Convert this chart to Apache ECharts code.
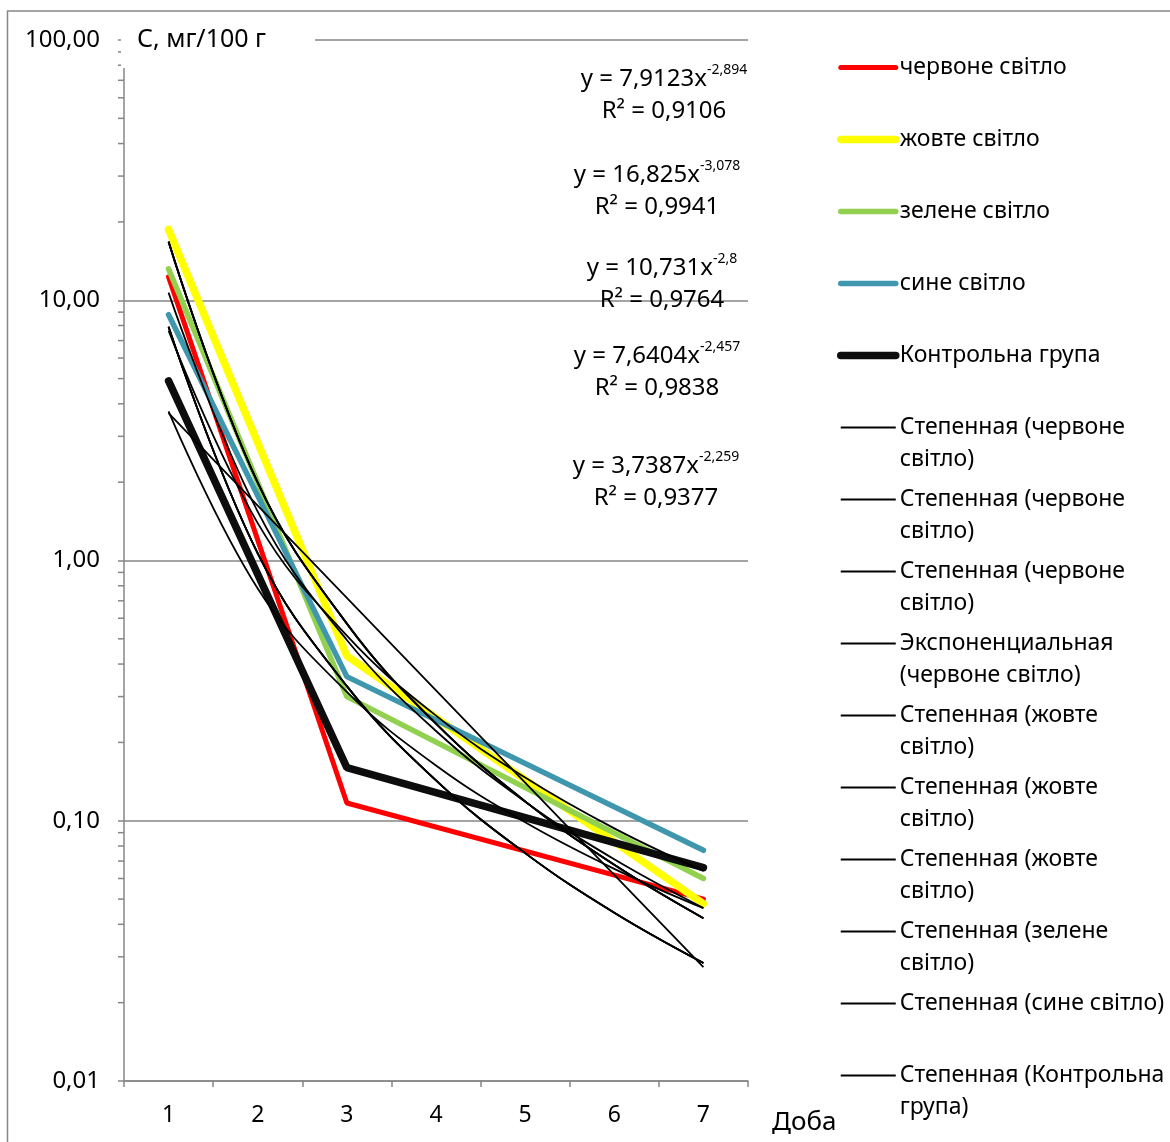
<!DOCTYPE html>
<html>
<head>
<meta charset="utf-8">
<script src="https://cdn.jsdelivr.net/npm/echarts@6/dist/echarts.min.js"></script>
<style>
  html, body { margin: 0; padding: 0; background: #fff; }
  #chart { width: 1170px; height: 1142px; }
</style>
</head>
<body>
<div id="chart"></div>
<script>
// days on the x axis
const days = ['1', '2', '3', '4', '5', '6', '7'];

// measured concentrations (only days 1, 3, 7 have points)
const redLight = [12.3, null, 0.117, null, null, null, 0.050];
const yellowLight = [18.7, null, 0.43, null, null, null, 0.048];
const greenLight = [13.2, null, 0.30, null, null, null, 0.060];
const blueLight = [8.8, null, 0.358, null, null, null, 0.077];
const controlGroup = [4.9, null, 0.16, null, null, null, 0.066];

// trend lines, read at each day
const trendRedPow = [7.91, 1.065, 0.329, 0.143, 0.0751, 0.0443, 0.0284];
const trendRedExp = [3.68, 1.626, 0.718, 0.317, 0.140, 0.0619, 0.0274];
const trendYellowPow = [16.8, 1.99, 0.572, 0.236, 0.1187, 0.0677, 0.0422];
const trendGreenPow = [10.7, 1.541, 0.495, 0.2213, 0.1184, 0.0711, 0.0462];
const trendBluePow = [7.64, 1.392, 0.514, 0.2534, 0.1466, 0.0935, 0.0641];
const trendControlPow = [3.74, 0.781, 0.3126, 0.1631, 0.0986, 0.0653, 0.0461];

// y axis minor tick values (log)
const minorTicks = [];
[0.01, 0.1, 1, 10].forEach(d => { for (let k = 2; k <= 9; k++) minorTicks.push(+(d * k).toPrecision(3)); });

// trendline equations
const eqCoef = ['7,9123', '16,825', '10,731', '7,6404', '3,7387'];
const eqPow = ['-2,894', '-3,078', '-2,8', '-2,457', '-2,259'];
const eqR2 = ['0,9106', '0,9941', '0,9764', '0,9838', '0,9377'];
const eqPos = [[664, 95], [657, 191], [662, 284], [657, 372], [656, 482]];

const FONT = '"Noto Sans", "Open Sans", sans-serif';
const GREY = '#868686';

const dataSeries = [
  { label: 'червоне світло', data: redLight, color: '#ff0000', width: 5 },
  { label: 'жовте світло', data: yellowLight, color: '#ffff00', width: 7.5 },
  { label: 'зелене світло', data: greenLight, color: '#92d050', width: 5.5 },
  { label: 'сине світло', data: blueLight, color: '#3f97ae', width: 5.5 },
  { label: 'Контрольна група', data: controlGroup, color: '#0d0d0d', width: 7.5 }
];

const trendSeries = [
  { label: 'Степенная (червоне\nсвітло)', data: trendRedPow },
  { label: 'Степенная (червоне\nсвітло)', data: trendRedPow },
  { label: 'Степенная (червоне\nсвітло)', data: trendRedPow },
  { label: 'Экспоненциальная\n(червоне світло)', data: trendRedExp },
  { label: 'Степенная (жовте\nсвітло)', data: trendYellowPow },
  { label: 'Степенная (жовте\nсвітло)', data: trendYellowPow },
  { label: 'Степенная (жовте\nсвітло)', data: trendYellowPow },
  { label: 'Степенная (зелене\nсвітло)', data: trendGreenPow },
  { label: 'Степенная (сине світло)', data: trendBluePow },
  { label: 'Степенная (Контрольна\nгрупа)', data: trendControlPow }
];

const labelByName = {};
const series = [];
dataSeries.forEach((s, i) => {
  const name = 'd' + i;
  labelByName[name] = s.label;
  series.push({
    name: name,
    type: 'line',
    data: s.data,
    connectNulls: true,
    symbol: 'none',
    lineStyle: { color: s.color, width: s.width, cap: 'round' },
    itemStyle: { color: s.color },
    z: 2
  });
});
trendSeries.forEach((s, i) => {
  const name = 't' + i;
  labelByName[name] = s.label;
  series.push({
    name: name,
    type: 'line',
    data: s.data,
    smooth: 0.4,
    symbol: 'none',
    lineStyle: { color: '#000', width: 1.8 },
    itemStyle: { color: '#000' },
    z: 3
  });
});
series.push({
  name: 'minor',
  type: 'custom',
  silent: true,
  data: minorTicks.map(v => [0, v]),
  renderItem: function (params, api) {
    const p = api.coord([0, api.value(1)]);
    const bw = api.size([1, 0])[0];
    const x0 = p[0] - bw / 2;
    return {
      type: 'line',
      shape: { x1: x0 - 6, y1: p[1], x2: x0, y2: p[1] },
      style: { stroke: GREY, lineWidth: 1.5 }
    };
  },
  z: 1
});

const chart = echarts.init(document.getElementById('chart'));
chart.setOption({
  backgroundColor: '#fff',
  animation: false,
  textStyle: { fontFamily: FONT },
  grid: { left: 124, right: 422, top: 40, bottom: 61 },
  xAxis: {
    type: 'category',
    data: days,
    boundaryGap: true,
    name: 'Доба',
    nameLocation: 'end',
    nameGap: 24,
    nameTextStyle: { fontSize: 26, color: '#000', fontFamily: FONT, align: 'left', verticalAlign: 'top', padding: [29, 0, 0, 0] },
    axisLine: { lineStyle: { color: GREY, width: 1.5 } },
    axisTick: { show: true, length: 6, interval: 0, lineStyle: { color: GREY, width: 1.5 } },
    axisLabel: { fontSize: 23, color: '#000', margin: 23, fontFamily: FONT },
    splitLine: { show: false }
  },
  yAxis: {
    type: 'log',
    logBase: 10,
    min: 0.01,
    max: 100,
    axisLine: { show: true, lineStyle: { color: GREY, width: 1.5 } },
    axisTick: { show: true, length: 6, lineStyle: { color: GREY, width: 1.5 } },
    axisLabel: {
      fontSize: 24, color: '#000', margin: 24, fontFamily: FONT,
      formatter: v => Number(v).toFixed(2).replace('.', ',')
    },
    splitLine: { show: true, lineStyle: { color: GREY, width: 1.5 } }
  },
  legend: {
    orient: 'vertical',
    left: 837,
    top: 24,
    height: 1140,
    padding: 0,
    itemGap: -15,
    itemWidth: 55,
    itemHeight: 14,
    data: series.filter(s => s.name !== 'minor').map(s => s.name),
    lineStyle: { width: 'inherit' },
    itemStyle: { opacity: 0, color: 'transparent', borderWidth: 0 },
    formatter: function (name) {
      const lines = labelByName[name].split('\n');
      return '{e| }\n{t|' + lines[0] + '}\n{t|' + (lines[1] || ' ') + '}';
    },
    textStyle: {
      color: '#000',
      padding: [0, 0, 0, -1],
      rich: {
        e: { fontSize: 23, lineHeight: 32, fontFamily: FONT },
        t: { fontSize: 23, lineHeight: 32, color: '#000', fontFamily: FONT }
      }
    }
  },
  graphic: [
    {
      type: 'rect', z: 0, silent: true,
      shape: { x: 7.5, y: 11, width: 1300, height: 1300 },
      style: { fill: 'none', stroke: GREY, lineWidth: 1.5 }
    },
    {
      type: 'rect', z: 100, silent: true,
      shape: { x: 121, y: 13, width: 194, height: 55 },
      style: { fill: '#fff' }
    },
    {
      type: 'text', z: 101, silent: true,
      style: { x: 137, y: 40, text: 'С, мг/100 г', fill: '#000', font: '25px ' + FONT, verticalAlign: 'middle' }
    }
  ].concat(eqCoef.map((c, i) => ({
    type: 'text', z: 101, silent: true,
    style: {
      x: eqPos[i][0], y: eqPos[i][1],
      text: '{m|y = ' + c + 'x}{s|' + eqPow[i] + '}\n{m|R² = ' + eqR2[i] + '}',
      align: 'center', verticalAlign: 'middle',
      rich: {
        m: { fontSize: 24, lineHeight: 32, fill: '#000', fontFamily: FONT },
        s: { fontSize: 14, lineHeight: 20, fill: '#000', fontFamily: FONT, verticalAlign: 'top' }
      }
    }
  }))),
  series: series
});
</script>
</body>
</html>
